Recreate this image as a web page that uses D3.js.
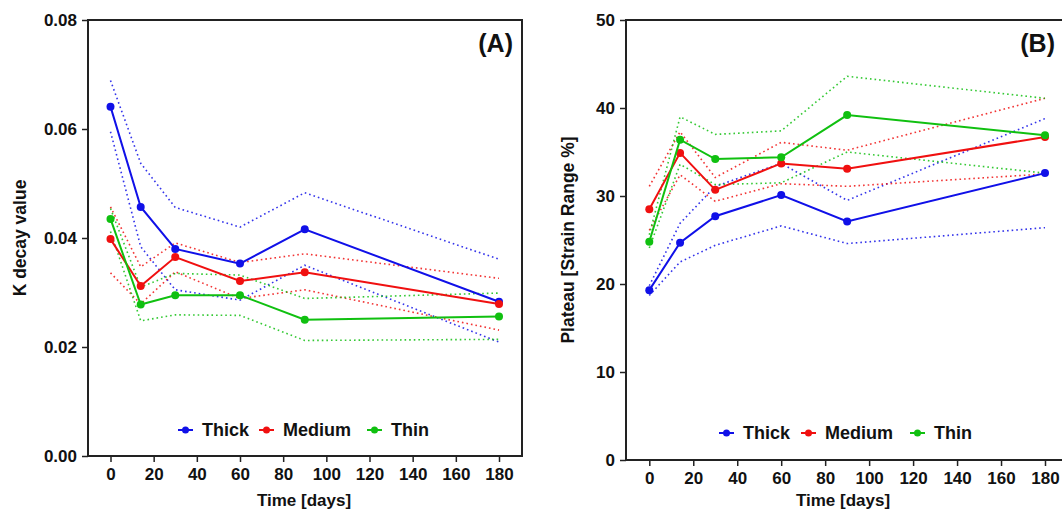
<!DOCTYPE html>
<html>
<head>
<meta charset="utf-8">
<script src="https://cdn.jsdelivr.net/npm/d3@7"></script>
<style>
  html, body { margin: 0; padding: 0; background: #fff; }
  svg { display: block; font-family: "Liberation Sans", Arial, sans-serif; }
</style>
</head>
<body>
<svg id="chart" width="1062" height="512"></svg>
<script>
// Sampling times (days)
const days = [0, 14, 30, 60, 90, 180];
const xTicks = [0, 20, 40, 60, 80, 100, 120, 140, 160, 180];
const seriesNames = ["Thick", "Medium", "Thin"];
const seriesColors = ["#1010e8", "#f01010", "#10c010"];

// Panel A: K decay value (mean, upper and lower band)
const kThick      = [0.0641, 0.0457, 0.0380, 0.0353, 0.0416, 0.0283];
const kThickHi    = [0.0689, 0.0537, 0.0456, 0.0420, 0.0483, 0.0361];
const kThickLo    = [0.0595, 0.0384, 0.0305, 0.0286, 0.0350, 0.0209];
const kMedium     = [0.0398, 0.0312, 0.0365, 0.0321, 0.0337, 0.0279];
const kMediumHi   = [0.0457, 0.0347, 0.0391, 0.0355, 0.0371, 0.0326];
const kMediumLo   = [0.0336, 0.0279, 0.0338, 0.0289, 0.0305, 0.0231];
const kThin       = [0.0435, 0.0278, 0.0295, 0.0295, 0.0250, 0.0256];
const kThinHi     = [0.0454, 0.0310, 0.0335, 0.0332, 0.0289, 0.0299];
const kThinLo     = [0.0412, 0.0248, 0.0259, 0.0258, 0.0212, 0.0214];
const kTicks = [0.00, 0.02, 0.04, 0.06, 0.08];

// Panel B: Plateau (strain range %)
const pThick      = [19.3, 24.7, 27.7, 30.1, 27.1, 32.6];
const pThickHi    = [19.8, 26.9, 31.1, 33.7, 29.5, 38.8];
const pThickLo    = [18.7, 22.5, 24.4, 26.6, 24.6, 26.4];
const pMedium     = [28.5, 34.9, 30.7, 33.7, 33.1, 36.7];
const pMediumHi   = [31.1, 37.3, 32.1, 36.1, 35.2, 41.1];
const pMediumLo   = [26.1, 32.4, 29.4, 31.4, 31.1, 32.5];
const pThin       = [24.8, 36.4, 34.2, 34.4, 39.2, 36.9];
const pThinHi     = [25.6, 39.0, 37.0, 37.4, 43.6, 41.1];
const pThinLo     = [24.1, 33.6, 31.3, 31.5, 35.0, 32.6];
const pTicks = [0, 10, 20, 30, 40, 50];

const svg = d3.select("#chart");

function drawPanel(cfg) {
  const x = d3.scaleLinear().domain([0, 180]).range([cfg.x0, cfg.x180]);
  const y = d3.scaleLinear().domain(cfg.yDomain).range([cfg.bottom, cfg.top]);
  const g = svg.append("g");

  // box: left, bottom, top and right edges
  g.append("path")
    .attr("d", `M${cfg.left},${cfg.top}H${cfg.right}V${cfg.bottom}H${cfg.left}Z`)
    .attr("fill", "none").attr("stroke", "#222").attr("stroke-width", 2);

  const xAxis = g.append("g")
    .attr("transform", `translate(0,${cfg.bottom})`)
    .call(d3.axisBottom(x).tickValues(xTicks).tickSize(6).tickPadding(6).tickFormat(d3.format("d")));
  const yAxis = g.append("g")
    .attr("transform", `translate(${cfg.left},0)`)
    .call(d3.axisLeft(y).tickValues(cfg.yTicks).tickSize(6).tickPadding(5).tickFormat(cfg.yFormat));
  [xAxis, yAxis].forEach(a => {
    a.select(".domain").remove();
    a.selectAll(".tick line").attr("stroke", "#222").attr("stroke-width", 1.5);
    a.selectAll(".tick text").attr("fill", "#111").attr("font-size", 17).attr("font-weight", "bold")
      .attr("font-family", "'Liberation Sans', Arial, sans-serif");
  });

  const line = d3.line().x((d, i) => x(days[i])).y(d => y(d));

  cfg.series.forEach((s, k) => {
    const c = seriesColors[k];
    [s.hi, s.lo].forEach(b => {
      g.append("path").datum(b).attr("d", line)
        .attr("fill", "none").attr("stroke", c).attr("stroke-width", 1.6)
        .attr("stroke-dasharray", "1.6,3").attr("opacity", 0.85);
    });
  });
  cfg.series.forEach((s, k) => {
    const c = seriesColors[k];
    g.append("path").datum(s.mean).attr("d", line)
      .attr("fill", "none").attr("stroke", c).attr("stroke-width", 2);
    g.selectAll(null).data(s.mean).enter().append("circle")
      .attr("cx", (d, i) => x(days[i])).attr("cy", d => y(d)).attr("r", 4).attr("fill", c);
  });

  // panel tag
  g.append("text").attr("x", cfg.tagX).attr("y", 52).attr("text-anchor", "end")
    .attr("font-size", 25).attr("font-weight", "bold").attr("fill", "#111").text(cfg.tag);

  // axis titles
  g.append("text").attr("x", cfg.xTitleX).attr("y", 506)
    .attr("text-anchor", "middle").attr("font-size", 17).attr("font-weight", "bold").attr("fill", "#111")
    .text("Time [days]");
  g.append("text")
    .attr("transform", `translate(${cfg.yTitleX},${(cfg.top + cfg.bottom) / 2}) rotate(-90)`)
    .attr("text-anchor", "middle").attr("font-size", 17.5).attr("font-weight", "bold").attr("fill", "#111")
    .text(cfg.yTitle);

  // legend
  const lg = g.append("g").attr("transform", `translate(0,${cfg.legendY})`);
  seriesNames.forEach((n, k) => {
    const lx = cfg.legendX[k];
    lg.append("line").attr("x1", lx).attr("x2", lx + 15).attr("y1", 0).attr("y2", 0)
      .attr("stroke", seriesColors[k]).attr("stroke-width", 2);
    lg.append("circle").attr("cx", lx + 7.5).attr("cy", 0).attr("r", 3.5).attr("fill", seriesColors[k]);
    lg.append("text").attr("x", lx + 24).attr("y", 6).attr("font-size", 18).attr("font-weight", "bold")
      .attr("fill", "#111").text(n);
  });
}

drawPanel({
  left: 88, right: 522, top: 20, bottom: 456, x0: 110.5, x180: 499,
  yDomain: [0, 0.08], yTicks: kTicks, yFormat: d3.format(".2f"),
  tag: "(A)", tagX: 513, yTitle: "K decay value", yTitleX: 26, xTitleX: 304,
  legendY: 430, legendX: [178, 259, 367],
  series: [
    { mean: kThick, hi: kThickHi, lo: kThickLo },
    { mean: kMedium, hi: kMediumHi, lo: kMediumLo },
    { mean: kThin, hi: kThinHi, lo: kThinLo }
  ]
});

drawPanel({
  left: 626, right: 1068, top: 20, bottom: 460, x0: 649.3, x180: 1045,
  yDomain: [0, 50], yTicks: pTicks, yFormat: d3.format("d"),
  tag: "(B)", tagX: 1055, yTitle: "Plateau [Strain Range %]", yTitleX: 574, xTitleX: 843,
  legendY: 433, legendX: [719, 801, 910],
  series: [
    { mean: pThick, hi: pThickHi, lo: pThickLo },
    { mean: pMedium, hi: pMediumHi, lo: pMediumLo },
    { mean: pThin, hi: pThinHi, lo: pThinLo }
  ]
});
</script>
</body>
</html>
